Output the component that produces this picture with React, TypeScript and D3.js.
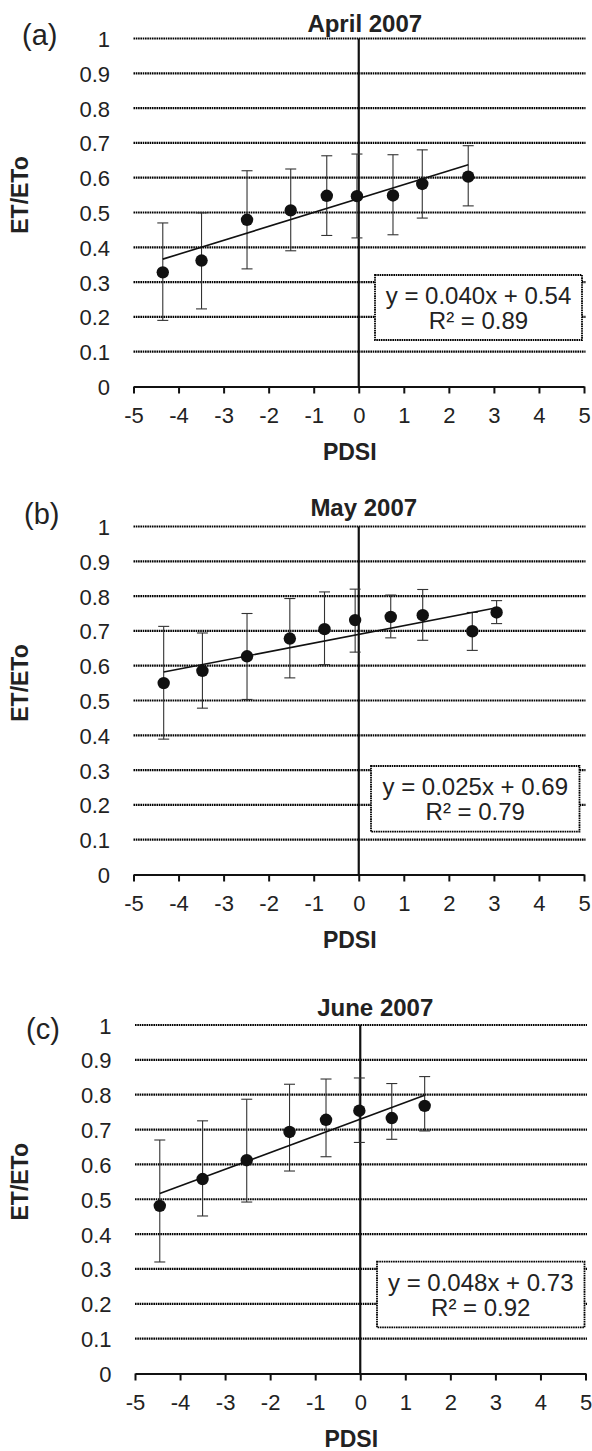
import { useEffect, useRef } from "react";
import * as d3 from "d3";

// axis ticks
const xTicks = [-5, -4, -3, -2, -1, 0, 1, 2, 3, 4, 5];
const yTicks = [0, 0.1, 0.2, 0.3, 0.4, 0.5, 0.6, 0.7, 0.8, 0.9, 1];
const yTickLabels = ["0", "0.1", "0.2", "0.3", "0.4", "0.5", "0.6", "0.7", "0.8", "0.9", "1"];

// panel text
const panelTitles = ["April 2007", "May 2007", "June 2007"];
const panelTags = ["(a)", "(b)", "(c)"];
const eqLabels = ["y = 0.040x + 0.54", "y = 0.025x + 0.69", "y = 0.048x + 0.73"];
const r2Labels = ["R² = 0.89", "R² = 0.79", "R² = 0.92"];
const slopes = [0.04, 0.025, 0.048];
const intercepts = [0.54, 0.69, 0.73];

// (a) April 2007
const aprilPdsi = [-4.35, -3.49, -2.48, -1.51, -0.71, -0.04, 0.76, 1.41, 2.43];
const aprilRatio = [0.328, 0.362, 0.479, 0.506, 0.548, 0.547, 0.549, 0.582, 0.603];
const aprilHigh = [0.47, 0.499, 0.62, 0.625, 0.663, 0.668, 0.666, 0.68, 0.692];
const aprilLow = [0.19, 0.223, 0.338, 0.39, 0.434, 0.427, 0.436, 0.484, 0.519];

// (b) May 2007
const mayPdsi = [-4.33, -3.47, -2.48, -1.53, -0.76, -0.08, 0.71, 1.42, 2.52, 3.06];
const mayRatio = [0.55, 0.585, 0.627, 0.678, 0.705, 0.731, 0.74, 0.745, 0.699, 0.753];
const mayHigh = [0.713, 0.694, 0.75, 0.793, 0.812, 0.82, 0.803, 0.819, 0.753, 0.787];
const mayLow = [0.389, 0.478, 0.503, 0.565, 0.603, 0.639, 0.68, 0.673, 0.644, 0.721];

// (c) June 2007
const junePdsi = [-4.45, -3.5, -2.52, -1.57, -0.76, -0.02, 0.7, 1.43];
const juneRatio = [0.481, 0.558, 0.612, 0.693, 0.728, 0.754, 0.733, 0.768];
const juneHigh = [0.67, 0.725, 0.787, 0.83, 0.845, 0.848, 0.832, 0.852];
const juneLow = [0.32, 0.452, 0.492, 0.581, 0.622, 0.663, 0.672, 0.696];

const series = [
  { x: aprilPdsi, y: aprilRatio, hi: aprilHigh, lo: aprilLow },
  { x: mayPdsi, y: mayRatio, hi: mayHigh, lo: mayLow },
  { x: junePdsi, y: juneRatio, hi: juneHigh, lo: juneLow },
];

const layout = [
  { left: 133.5, right: 584, top: 38.5, bottom: 386.5, titleY: 32, titleDx: 6, tagX: 22, tagY: 44.5,
    box: { x: 375, y: 275, w: 207, h: 65 } },
  { left: 133.5, right: 584, top: 526.5, bottom: 874.5, titleY: 515.5, titleDx: 5, tagX: 24, tagY: 524,
    box: { x: 371, y: 766, w: 208.5, h: 65.7 } },
  { left: 135, right: 585.5, top: 1025, bottom: 1373.5, titleY: 1015.5, titleDx: 15, tagX: 26, tagY: 1039,
    box: { x: 377, y: 1261.7, w: 207.5, h: 65.6 } },
];

const FONT = "'Liberation Sans', Arial, sans-serif";

const App = () => {
  const svgRef = useRef(null);

  useEffect(() => {
    const svg = d3.select(svgRef.current);
    svg.selectAll("*").remove();

    layout.forEach((L, p) => {
      const s = series[p];
      const x = d3.scaleLinear().domain([-5, 5]).range([L.left, L.right]);
      const y = d3.scaleLinear().domain([0, 1]).range([L.bottom, L.top]);
      const g = svg.append("g");

      // dotted gridlines
      g.selectAll(".grid")
        .data(yTicks.slice(1))
        .enter()
        .append("line")
        .attr("x1", L.left)
        .attr("x2", L.right + 1.5)
        .attr("y1", (d) => y(d))
        .attr("y2", (d) => y(d))
        .attr("stroke", "#000")
        .attr("stroke-width", 2.2)
        .attr("stroke-dasharray", "1.6 0.7");

      // equation box
      g.append("rect")
        .attr("x", L.box.x)
        .attr("y", L.box.y)
        .attr("width", L.box.w)
        .attr("height", L.box.h)
        .attr("fill", "#fff")
        .attr("stroke", "#000")
        .attr("stroke-width", 1.8)
        .attr("stroke-dasharray", "1.6 0.7");
      g.append("text")
        .attr("x", L.box.x + L.box.w / 2)
        .attr("y", L.box.y + 29)
        .attr("text-anchor", "middle")
        .style("font-family", FONT)
        .style("font-size", "24px")
        .attr("fill", "#222")
        .text(eqLabels[p]);
      g.append("text")
        .attr("x", L.box.x + L.box.w / 2)
        .attr("y", L.box.y + 54)
        .attr("text-anchor", "middle")
        .style("font-family", FONT)
        .style("font-size", "24px")
        .attr("fill", "#222")
        .text(r2Labels[p]);

      // vertical line at PDSI = 0
      g.append("line")
        .attr("x1", x(0))
        .attr("x2", x(0))
        .attr("y1", y(1))
        .attr("y2", y(0))
        .attr("stroke", "#111")
        .attr("stroke-width", 2.2);

      // x axis
      const ax = g.append("g")
        .attr("transform", "translate(0," + y(0) + ")")
        .call(
          d3.axisBottom(x)
            .tickValues(xTicks)
            .tickSize(7)
            .tickSizeOuter(0)
            .tickPadding(14)
            .tickFormat((d) => String(d))
        );
      ax.select(".domain").attr("stroke", "#111").attr("stroke-width", 2.2);
      ax.selectAll(".tick line").attr("stroke", "#111").attr("stroke-width", 2);
      ax.selectAll("text")
        .style("font-family", FONT)
        .style("font-size", "22px")
        .attr("fill", "#222");

      // y tick labels
      g.selectAll(".ylab")
        .data(yTicks)
        .enter()
        .append("text")
        .attr("x", L.left - 23.5)
        .attr("y", (d) => y(d) + 8.5)
        .attr("text-anchor", "end")
        .style("font-family", FONT)
        .style("font-size", "22px")
        .attr("fill", "#222")
        .text((d, i) => yTickLabels[i]);

      // error bars
      const idx = d3.range(s.x.length);
      const eb = g.selectAll(".eb").data(idx).enter().append("g");
      eb.append("line")
        .attr("x1", (i) => x(s.x[i]))
        .attr("x2", (i) => x(s.x[i]))
        .attr("y1", (i) => y(s.hi[i]))
        .attr("y2", (i) => y(s.lo[i]))
        .attr("stroke", "#333")
        .attr("stroke-width", 1.1);
      [s.hi, s.lo].forEach((arr) => {
        eb.append("line")
          .attr("x1", (i) => x(s.x[i]) - 5.5)
          .attr("x2", (i) => x(s.x[i]) + 5.5)
          .attr("y1", (i) => y(arr[i]))
          .attr("y2", (i) => y(arr[i]))
          .attr("stroke", "#333")
          .attr("stroke-width", 1.1);
      });

      // points
      g.selectAll(".pt")
        .data(idx)
        .enter()
        .append("circle")
        .attr("cx", (i) => x(s.x[i]))
        .attr("cy", (i) => y(s.y[i]))
        .attr("r", 6.2)
        .attr("fill", "#111");

      // linear trend line
      const [x0, x1] = d3.extent(s.x);
      const line = d3.line().x((d) => x(d[0])).y((d) => y(d[1]));
      g.append("path")
        .attr("d", line([
          [x0, slopes[p] * x0 + intercepts[p]],
          [x1, slopes[p] * x1 + intercepts[p]],
        ]))
        .attr("fill", "none")
        .attr("stroke", "#111")
        .attr("stroke-width", 1.6);

      // titles and labels
      g.append("text")
        .attr("x", x(0) + L.titleDx)
        .attr("y", L.titleY)
        .attr("text-anchor", "middle")
        .style("font-family", FONT)
        .style("font-size", "24px")
        .style("font-weight", "bold")
        .attr("fill", "#222")
        .text(panelTitles[p]);

      g.append("text")
        .attr("x", L.tagX)
        .attr("y", L.tagY)
        .style("font-family", FONT)
        .style("font-size", "29px")
        .attr("fill", "#222")
        .text(panelTags[p]);

      g.append("text")
        .attr("x", x(0) - 9)
        .attr("y", y(0) + 73)
        .attr("text-anchor", "middle")
        .style("font-family", FONT)
        .style("font-size", "23px")
        .style("font-weight", "bold")
        .attr("fill", "#222")
        .text("PDSI");

      g.append("text")
        .attr("transform", "translate(28," + ((L.top + L.bottom) / 2 - 17.5) + ") rotate(-90)")
        .attr("text-anchor", "middle")
        .style("font-family", FONT)
        .style("font-size", "23px")
        .style("font-weight", "bold")
        .attr("fill", "#222")
        .text("ET/ETo");
    });
  }, []);

  return (
    <svg
      ref={svgRef}
      width={592}
      height={1451}
      style={{ position: "absolute", left: 0, top: 0, background: "#fff" }}
    />
  );
};

export default App;
